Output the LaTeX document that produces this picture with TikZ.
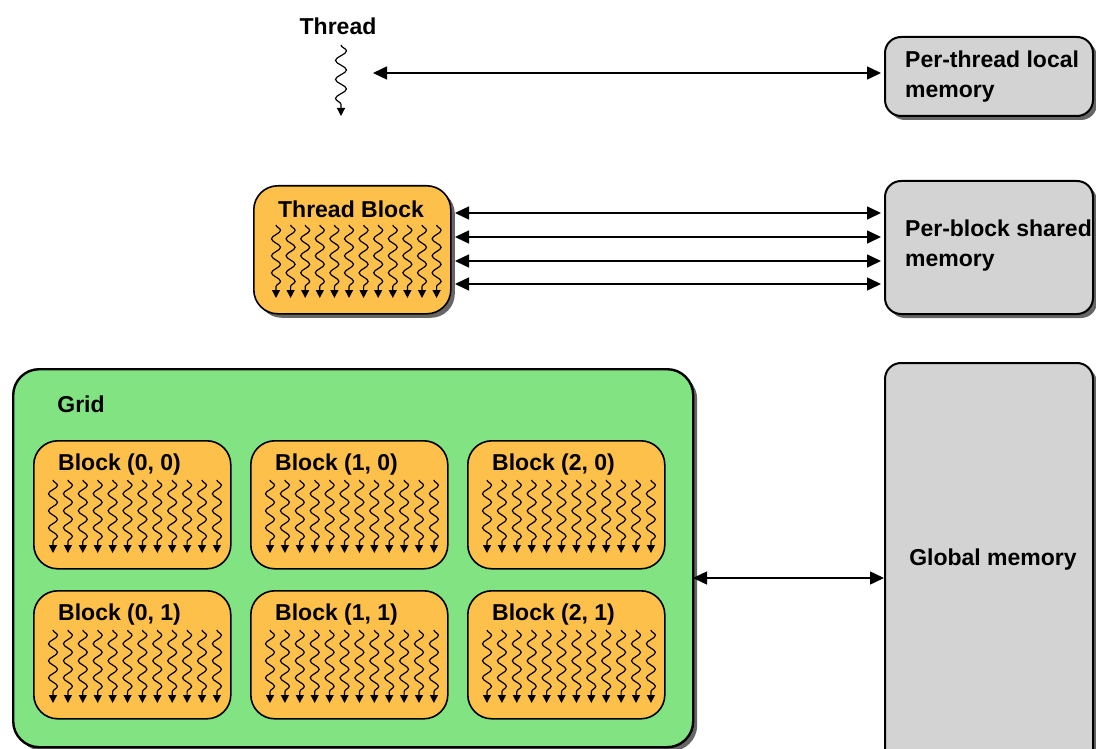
\documentclass[tikz,border=0pt]{standalone}
\usepackage{fontspec}
\setmainfont{Liberation Sans}
\usetikzlibrary{arrows.meta,decorations.pathmorphing,shadows,calc}
\definecolor{blockorange}{HTML}{FDC04A}
\definecolor{gridgreen}{HTML}{82E382}
\definecolor{memgray}{HTML}{D3D3D3}
\tikzset{
  lbl/.style={font=\fontsize{23}{30}\selectfont\bfseries, text=black, inner sep=0pt},
  shadowed/.style={drop shadow={shadow xshift=4pt, shadow yshift=-4pt, opacity=0.6, fill=black}},
  membox/.style={draw=black, line width=2pt, fill=memgray, rounded corners=16pt, shadowed, anchor=north west, inner sep=0pt},
  tblock/.style={draw=black, line width=1.6pt, fill=blockorange, rounded corners=24pt, anchor=north west, inner sep=0pt},
  gridbox/.style={draw=black, line width=2.4pt, fill=gridgreen, rounded corners=26pt, shadowed, anchor=north west, inner sep=0pt},
  thread/.style={line width=1.2pt, decoration={snake, amplitude=4.5pt, segment length=17pt, post length=7pt}, decorate, -{Triangle[length=8pt,width=8pt]}},
  bigthread/.style={line width=1.2pt, decoration={snake, amplitude=5.5pt, segment length=19pt, post length=8pt}, decorate, -{Triangle[length=8pt,width=8pt]}},
  biarrow/.style={line width=1.5pt, {Triangle[length=14pt,width=13pt]}-{Triangle[length=14pt,width=13pt]}},
}
\newcommand{\threadrow}[3]{% x0, ytop, dx
  \foreach \i in {0,...,11}{\draw[thread] ({#1+\i*#3},#2) -- ++(0,73);}}
\begin{document}
\begin{tikzpicture}[x=1pt,y=-1pt]
\clip (0,0) rectangle (1096,749);
\fill[white] (0,0) rectangle (1096,749);

% ---- single thread
\node[lbl] (threadlbl) at (338,26) {Thread};
\draw[bigthread] (341,45) -- (341,116);

% ---- memory boxes
\node[membox, minimum width=208pt, minimum height=79pt] (ptl) at (884,36) {};
\node[lbl, anchor=west, align=left] (ptltxt) at (905,77) {Per-thread local\\memory};

\node[membox, minimum width=208pt, minimum height=133pt] (shm) at (884,180) {};
\node[lbl, anchor=west, align=left] (shmtxt) at (905,246) {Per-block shared\\memory};

\node[membox, minimum width=208pt, minimum height=410pt] (glm) at (884,362) {};
\node[lbl] (glmtxt) at (993,560) {Global memory};

% ---- thread block
\node[tblock, shadowed, minimum width=197pt, minimum height=128pt] (tb) at (253,185) {};
\node[lbl] (tbtxt) at (351,209) {Thread Block};
\threadrow{276}{225}{14.6}

% ---- grid
\node[gridbox, minimum width=680pt, minimum height=378pt] (grid) at (12,368) {};
\node[lbl] (gridtxt) at (81,404) {Grid};

\foreach \c/\xx in {0/33,1/250,2/467}{
  \foreach \r/\yy in {0/440,1/590}{
    \node[tblock, minimum width=197pt, minimum height=128pt] (b\c\r) at (\xx,\yy) {};
    \node[lbl, anchor=west] (bt\c\r) at (\xx+25,\yy+25) {Block (\c, \r)};
    \threadrow{\xx+20}{\yy+40}{14.9}
  }
}

% ---- connectors
\coordinate (tA) at (373,73);
\draw[biarrow, shorten >=3pt] (tA) -- (tA -| ptl.west);
\foreach \yy in {213,237,261,284}{
  \coordinate (c\yy) at (455,\yy);
  \draw[biarrow, shorten >=3pt] (c\yy) -- (c\yy -| shm.west);
}
\coordinate (gA) at (693,578);
\draw[biarrow] (gA) -- (gA -| glm.west);
\end{tikzpicture}
\end{document}
